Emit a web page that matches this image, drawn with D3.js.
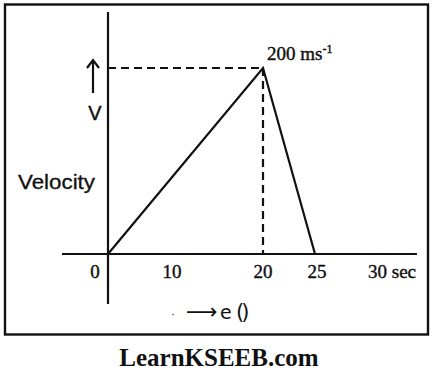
<!DOCTYPE html>
<html><head><meta charset="utf-8">
<script src="https://cdn.jsdelivr.net/npm/d3@7"></script>
<style>body{margin:0;background:#fff}svg{display:block}</style>
</head><body>
<script>
// Data
const times = [0, 20, 25];
const velocities = [0, 200, 0];
const xTickValues = [0, 10, 20, 25, 30];
const xTickLabels = ["0", "10", "20", "25", "30 sec"];
const peakLabel = "200 ms";
const peakSup = "-1";
const yLabel = "Velocity";

const W = 435, H = 379;
const svg = d3.select("body").append("svg").attr("width", W).attr("height", H);

// Figure not drawn to scale: piecewise-linear time scale
const x = d3.scaleLinear().domain([0, 10, 20, 25, 30]).range([108, 172, 263, 315, 378]);
const y = d3.scaleLinear().domain([0, 200]).range([254, 68]);

const ink = "#111";
const serif = "'Liberation Serif', 'DejaVu Serif', serif";
const sans = "'Liberation Sans', Arial, sans-serif";

// Frame
svg.append("rect").attr("x", 5).attr("y", 4.5).attr("width", 423).attr("height", 330)
  .attr("fill", "none").attr("stroke", ink).attr("stroke-width", 2.4);

// Axes
svg.append("line").attr("x1", 62).attr("x2", 417).attr("y1", y(0)).attr("y2", y(0))
  .attr("stroke", ink).attr("stroke-width", 2.2);
svg.append("line").attr("x1", x(0)).attr("x2", x(0)).attr("y1", 12).attr("y2", 304)
  .attr("stroke", ink).attr("stroke-width", 2.2);

// Dashed guides
const peakT = times[1], peakV = velocities[1];
svg.append("line").attr("x1", x(0)).attr("x2", x(peakT)).attr("y1", y(peakV)).attr("y2", y(peakV))
  .attr("stroke", ink).attr("stroke-width", 2.2).attr("stroke-dasharray", "8,5");
svg.append("line").attr("x1", x(peakT)).attr("x2", x(peakT)).attr("y1", y(peakV)).attr("y2", y(0))
  .attr("stroke", ink).attr("stroke-width", 2.2).attr("stroke-dasharray", "8,5");

// Velocity-time line
const line = d3.line().x((d, i) => x(times[i])).y((d, i) => y(velocities[i]));
svg.append("path").datum(velocities).attr("d", line)
  .attr("fill", "none").attr("stroke", ink).attr("stroke-width", 2.2).attr("stroke-linejoin", "miter");

// Tick labels
const tickDx = {0: -13, 10: 0, 20: 0, 25: 2, 30: 14};
svg.selectAll("text.tick").data(xTickValues).enter().append("text")
  .attr("class", "tick")
  .attr("x", d => x(d) + tickDx[d]).attr("y", 278)
  .attr("text-anchor", "middle")
  .attr("font-family", serif).attr("font-size", 19)
  .attr("fill", ink).attr("stroke", ink).attr("stroke-width", 0.4)
  .text((d, i) => xTickLabels[i]);

// Peak label
const pl = svg.append("text").attr("x", 267).attr("y", 60)
  .attr("font-family", serif).attr("font-size", 19).attr("fill", ink)
  .attr("stroke", ink).attr("stroke-width", 0.4);
pl.append("tspan").text(peakLabel);
pl.append("tspan").attr("font-size", 12).attr("dy", -7).text(peakSup);

// Y arrow and V
svg.append("line").attr("x1", 93).attr("x2", 93).attr("y1", 61).attr("y2", 93)
  .attr("stroke", ink).attr("stroke-width", 2.2);
svg.append("path").attr("d", "M87,68 L93,60 L99,68").attr("fill", "none")
  .attr("stroke", ink).attr("stroke-width", 2.2);
svg.append("text").attr("x", 95).attr("y", 120).attr("text-anchor", "middle")
  .attr("font-family", sans).attr("font-size", 20).attr("fill", ink)
  .attr("stroke", ink).attr("stroke-width", 0.4).text("V");

svg.append("text").attr("x", 18).attr("y", 189)
  .attr("font-family", sans).attr("font-size", 20).attr("fill", ink)
  .attr("stroke", ink).attr("stroke-width", 0.3)
  .attr("textLength", 77).attr("lengthAdjust", "spacingAndGlyphs").text(yLabel);

// x arrow text
svg.append("text").attr("x", 171).attr("y", 318).attr("font-family", sans).attr("font-size", 12)
  .attr("fill", ink).text("·");
const xa = svg.append("text").attr("y", 319).attr("fill", ink)
  .attr("font-family", "'DejaVu Sans', sans-serif");
xa.append("tspan").attr("x", 186).attr("font-size", 22).text("⟶");
xa.append("tspan").attr("x", 220).attr("font-size", 19).text("e");
xa.append("tspan").attr("x", 236).attr("font-size", 21).attr("letter-spacing", -3).text("()");

// Footer
svg.append("text").attr("x", 219).attr("y", 366).attr("text-anchor", "middle")
  .attr("font-family", serif).attr("font-weight", "bold").attr("font-size", 25)
  .attr("fill", "#111").text("LearnKSEEB.com");
</script>
</body></html>
